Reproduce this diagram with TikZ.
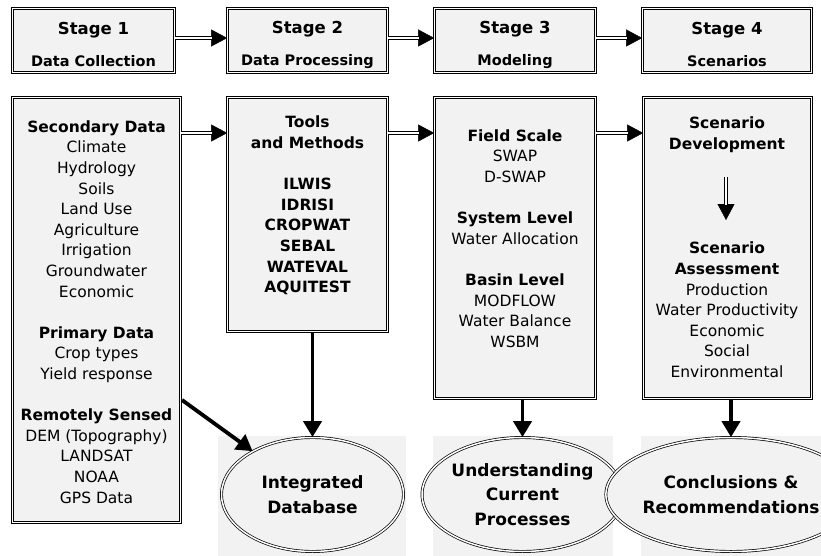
\documentclass[tikz,border=0pt]{standalone}
\usepackage{fontspec}
\setmainfont{DejaVu Sans}
\usetikzlibrary{arrows.meta,shapes.geometric,calc}
\definecolor{boxgray}{HTML}{F2F2F2}
\begin{document}
\begin{tikzpicture}[x=1pt,y=-1pt,
  dbl/.style={draw=black, line width=0.7pt, double=white, double distance=1.5pt, fill=boxgray},
  stagebox/.style={dbl, rectangle, inner sep=0pt, minimum height=64pt},
  stagetext/.style={inner sep=0pt, align=center, font=\bfseries\fontsize{14.5}{32}\selectfont},
  bigbox/.style={dbl, rectangle, inner sep=0pt},
  boxtext/.style={inner sep=0pt, align=center, font=\fontsize{15.5}{20.6}\selectfont},
  ell/.style={dbl, ellipse, inner sep=0pt, minimum height=114pt, align=center,
     font=\bfseries\fontsize{17}{24.5}\selectfont},
  dblarrow/.style={draw=none,
     postaction={draw, line width=0.4pt, -{Triangle[length=16pt,width=17pt]}},
     postaction={draw, line width=0.9pt, double=white, double distance=1.6pt, shorten >=15.5pt}},
  thickarrow/.style={line width=3.8pt, -{Triangle[length=16pt,width=18pt]}},
]
\useasboundingbox (0,0) rectangle (821,556);
\fill[white] (0,0) rectangle (821,556);
% background panels behind ellipses
\fill[boxgray] (218,436) rectangle (406,556);
\fill[boxgray] (433,436) rectangle (613,556);
\fill[boxgray] (641,436) rectangle (821,556);

% stage boxes
\node[stagebox, minimum width=162pt] (s1) at (93.5,40.5) {};
\node[stagebox, minimum width=160pt] (s2) at (307.5,40.5) {};
\node[stagebox, minimum width=161pt] (s3) at (515,40.5) {};
\node[stagebox, minimum width=169pt] (s4) at (727,40.5) {};
\node[stagetext] (st1) at (93.5,44.5) {{\fontsize{16.5}{32}\selectfont Stage 1}\\Data Collection};
\node[stagetext] (st2) at (307.5,44.5) {{\fontsize{16.5}{32}\selectfont Stage 2}\\Data Processing};
\node[stagetext] (st3) at (515,44.5) {{\fontsize{16.5}{32}\selectfont Stage 3}\\Modeling};
\node[stagetext] (st4) at (727,44.5) {{\fontsize{16.5}{32}\selectfont Stage 4}\\Scenarios};

% big boxes
\node[bigbox, minimum width=168pt, minimum height=425pt] (b1) at (96.5,310) {};
\node[bigbox, minimum width=160pt, minimum height=234pt] (b2) at (307.5,214.5) {};
\node[bigbox, minimum width=161pt, minimum height=301pt] (b3) at (515,248) {};
\node[bigbox, minimum width=168pt, minimum height=301pt] (b4) at (727.5,248) {};

\node[boxtext] (t1) at (96.5,312) {\textbf{Secondary Data}\\Climate\\Hydrology\\Soils\\Land Use\\Agriculture\\Irrigation\\Groundwater\\Economic\\[20.6pt]\textbf{Primary Data}\\Crop types\\Yield response\\[20.6pt]\textbf{Remotely Sensed}\\DEM (Topography)\\LANDSAT\\NOAA\\GPS Data};
\node[boxtext] (t2) at (307.5,205.5) {\textbf{Tools}\\\textbf{and Methods}\\[20.6pt]\textbf{ILWIS}\\\textbf{IDRISI}\\\textbf{CROPWAT}\\\textbf{SEBAL}\\\textbf{WATEVAL}\\\textbf{AQUITEST}};
\node[boxtext] (t3) at (515,238.5) {\textbf{Field Scale}\\SWAP\\D-SWAP\\[20.6pt]\textbf{System Level}\\Water Allocation\\[20.6pt]\textbf{Basin Level}\\MODFLOW\\Water Balance\\WSBM};
\node[boxtext] (t4a) at (727,135) {\textbf{Scenario}\\\textbf{Development}};
\node[boxtext] (t4b) at (727,310) {\textbf{Scenario}\\\textbf{Assessment}\\Production\\Water Productivity\\Economic\\Social\\Environmental};

% ellipses
\node[ell, minimum width=182pt] (e1) at (312.5,494.5) {Integrated\\Database};
\node[ell, minimum width=176pt] (e2) at (522.5,494.5) {Understanding\\Current\\Processes};
\node[ell, minimum width=177pt] (e3) at (731,494.5) {Conclusions \&\\Recommendations};

% connectors
\coordinate (toprow) at (0,38);
\coordinate (row) at (0,133);
\draw[dblarrow] (s1.east |- toprow) -- (s2.west |- toprow);
\draw[dblarrow] (s2.east |- toprow) -- (s3.west |- toprow);
\draw[dblarrow] (s3.east |- toprow) -- (s4.west |- toprow);
\draw[dblarrow] (b1.east |- row) -- (b2.west |- row);
\draw[dblarrow] (b2.east |- row) -- (b3.west |- row);
\draw[dblarrow] (b3.east |- row) -- (b4.west |- row);

\coordinate (sa) at (726,177);
\coordinate (sb) at (726,220);
\draw[dblarrow] (sa) -- (sb);

\draw[thickarrow] (e1.north |- b2.south) -- (e1.north);
\draw[thickarrow] (e2.north |- b3.south) -- (e2.north);
\draw[thickarrow] (e3.north |- b4.south) -- (e3.north);
\coordinate (dstart) at (182,400);
\draw[thickarrow] (dstart) -- (e1);
\end{tikzpicture}
\end{document}
